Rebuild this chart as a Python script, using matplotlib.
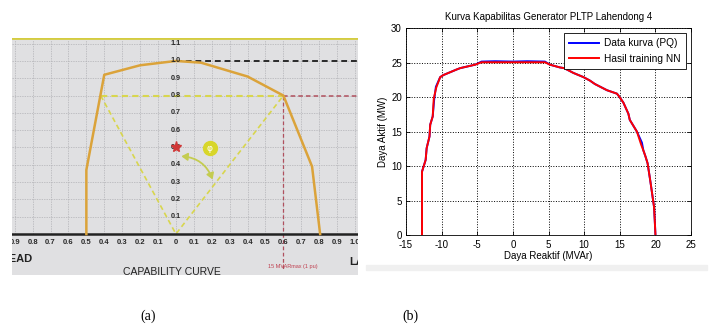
import matplotlib
matplotlib.use("Agg")
import numpy as np
import matplotlib.pyplot as plt
from matplotlib.patches import FancyArrowPatch, Rectangle

plt.rcParams["font.family"] = ["Liberation Sans", "DejaVu Sans"]
plt.rcParams["axes.unicode_minus"] = False

# (a) capability curve, per unit
cap_q = [-0.50, -0.50, -0.40, -0.20, 0.00, 0.14, 0.40, 0.60, 0.76, 0.805]
cap_p = [0.00, 0.37, 0.92, 0.975, 1.00, 0.99, 0.91, 0.80, 0.39, 0.00]
lead_q, lag_q, p_rated = -0.42, 0.60, 0.80
xtick_vals = [round(v, 1) for v in np.arange(-0.9, 1.01, 0.1)]
ytick_vals = [round(v, 1) for v in np.arange(0.1, 1.11, 0.1)]

# (b) Lahendong 4 curve, MVAr / MW
pq_q = [-12.75, -12.75, -12.24, -12.1, -11.7, -11.6, -11.25, -11.05, -10.8, -10.2,
        -9.75, -7.9, -7.4, -5.3, -4.4, -2.5, 0.0, 2.0, 4.5, 5.2, 6.6, 7.2, 8.5,
        9.9, 10.8, 11.5, 13.2, 14.6, 14.9, 15.5, 16.2, 16.4, 17.4, 18.1, 18.3,
        18.6, 18.9, 19.3, 19.8, 19.9, 20.0]
pq_p = [0.0, 9.2, 10.9, 12.6, 14.3, 16.0, 17.2, 19.6, 21.5, 22.9,
        23.2, 24.0, 24.2, 24.7, 25.15, 25.2, 25.15, 25.2, 25.15, 24.7, 24.3, 24.2, 23.5,
        22.9, 22.4, 21.9, 21.0, 20.5, 20.1, 19.2, 17.6, 16.7, 15.0, 13.4, 12.3,
        11.4, 10.4, 7.7, 4.1, 2.2, 0.0]
nn_q = [-12.75, -12.75, -12.24, -12.1, -11.7, -11.6, -11.25, -11.1, -10.75, -10.2,
        -9.75, -7.9, -7.4, -5.3, -4.4, -2.5, 0.0, 2.0, 4.5, 5.2, 6.6, 7.2, 8.5,
        9.9, 10.8, 11.5, 13.2, 14.6, 14.9, 15.5, 16.2, 16.4, 17.4, 18.0, 18.4,
        18.6, 18.9, 19.3, 19.8, 19.9, 20.0]
nn_p = [0.0, 9.2, 10.9, 12.6, 14.3, 16.0, 17.2, 19.8, 21.4, 22.9,
        23.2, 24.0, 24.2, 24.7, 25.05, 25.05, 25.05, 25.05, 25.05, 24.7, 24.3, 24.2, 23.5,
        22.9, 22.4, 21.9, 21.0, 20.5, 20.1, 19.2, 17.6, 16.7, 15.0, 13.1, 12.0,
        11.4, 10.4, 7.7, 4.1, 2.2, 0.0]

fig = plt.figure(figsize=(7.11, 3.27), dpi=100)
fig.patch.set_facecolor("white")

# ---- panel (a): photographed chart ----
axa = fig.add_axes([0.0169, 0.159, 0.487, 0.725])
axa.set_xlim(-0.915, 1.018)
axa.set_ylim(-0.237, 1.133)
axa.set_axis_off()
axa.add_patch(Rectangle((-0.915, -0.237), 1.933, 1.37, color="#e0e0e2", zorder=0))
axa.axhline(1.13, color="#d4cc40", lw=2.0, zorder=1)
for v in np.arange(-0.9, 1.01, 0.1):
    axa.plot([v, v], [0, 1.12], color="#b2b2b6", lw=0.5, ls=(0, (2, 1.5)), zorder=1)
for v in np.arange(0.1, 1.11, 0.1):
    axa.axhline(v, color="#b2b2b6", lw=0.5, ls=(0, (2, 1.5)), zorder=1)
axa.axhline(0, color="#222222", lw=1.8, zorder=3)

axa.plot([0, 1.02], [1.0, 1.0], color="#2a2a2a", lw=1.4, ls=(0, (3, 2)), zorder=2)
axa.plot([lag_q, 1.02], [p_rated, p_rated], color="#b0505e", lw=1.1, ls=(0, (3, 2)), zorder=2)
axa.plot([lag_q, lag_q], [p_rated, -0.2], color="#b0505e", lw=0.9, ls=(0, (3, 2)), zorder=2)
axa.plot([lead_q, lag_q], [p_rated, p_rated], color="#d8d64e", lw=1.5, ls=(0, (3, 2)), zorder=2)
axa.plot([lead_q, 0, lag_q], [p_rated, 0, p_rated], color="#d8d64e", lw=1.2,
         ls=(0, (3, 2)), zorder=2)
axa.plot(cap_q, cap_p, color="#dba33a", lw=1.8, zorder=4)

for v in ytick_vals:
    axa.text(0, v, f"{v:.1f}", ha="center", va="center", fontsize=5.2,
             color="#2a2a2a", fontweight="bold", zorder=5)
for v in xtick_vals:
    lab = "0" if abs(v) < 1e-9 else f"{abs(v):.1f}"
    axa.text(v, -0.052, lab, ha="center", va="center", fontsize=5.5,
             color="#2a2a2a", fontweight="bold", zorder=5, clip_on=True)
axa.text(-0.80, -0.145, "LEAD", ha="right", va="center", fontsize=8,
         color="#222222", fontweight="bold", clip_on=True)
axa.text(0.97, -0.16, "LAG", ha="left", va="center", fontsize=8,
         color="#222222", fontweight="bold", clip_on=True)
axa.text(-0.02, -0.22, "CAPABILITY CURVE", ha="center", va="center", fontsize=7.5,
         color="#222222")
axa.text(0.655, -0.19, "15 MVARmax (1 pu)", ha="center", va="center", fontsize=4,
         color="#c04050")

axa.plot([0], [0.5], marker="*", ms=8, color="#d03838", zorder=6)
axa.add_patch(FancyArrowPatch((0.015, 0.45), (0.21, 0.30),
                              connectionstyle="arc3,rad=-0.35",
                              arrowstyle="<|-|>,head_length=3.5,head_width=2.2",
                              color="#c4cc50", lw=1.3, zorder=6))
axa.plot([0.19], [0.495], marker="o", ms=10, color="#d8d62a", zorder=6)
axa.text(0.19, 0.495, "φ", ha="center", va="center", fontsize=6.5,
         color="white", zorder=7, family=["DejaVu Sans"])

# ---- panel (b): MATLAB-style plot ----
fig.patches.append(Rectangle((366 / 711, 57 / 327), (707 - 366) / 711, 5 / 327,
                             transform=fig.transFigure, color="#f0f0f0", zorder=0))
axb = fig.add_axes([0.571, 0.281, 0.401, 0.633])
axb.plot(pq_q, pq_p, color="#0000ff", lw=1.4, label="Data kurva (PQ)")
axb.plot(nn_q, nn_p, color="#ff0000", lw=1.4, label="Hasil training NN")
axb.set_xlim(-15, 25)
axb.set_ylim(0, 30)
axb.set_xticks(range(-15, 26, 5))
axb.set_yticks(range(0, 31, 5))
axb.grid(True, color="black", ls=":", lw=0.7)
axb.tick_params(direction="in", labelsize=7, length=3, width=0.6,
                top=True, right=True)
axb.tick_params(axis="x", pad=3.5)
axb.tick_params(axis="y", pad=3)
for s in axb.spines.values():
    s.set_linewidth(0.6)
axb.set_title("Kurva Kapabilitas Generator PLTP Lahendong 4", fontsize=7, pad=6)
axb.set_xlabel("Daya Reaktif (MVAr)", fontsize=7, labelpad=1)
axb.set_ylabel("Daya Aktif (MW)", fontsize=7, labelpad=2)
leg = axb.legend(loc="upper right", fontsize=7.3, fancybox=False, framealpha=1,
                 handlelength=3.0, borderaxespad=0.5, borderpad=0.5, labelspacing=0.55,
                 handletextpad=0.5)
leg.get_frame().set_edgecolor("black")
leg.get_frame().set_linewidth(0.6)

fig.text(148 / 711, 1 - 316 / 327, "(a)", ha="center", va="center", fontsize=10,
         family=["Liberation Serif"])
fig.text(410 / 711, 1 - 316 / 327, "(b)", ha="center", va="center", fontsize=10,
         family=["Liberation Serif"])

fig.savefig("out.png", dpi=100, facecolor="white")
